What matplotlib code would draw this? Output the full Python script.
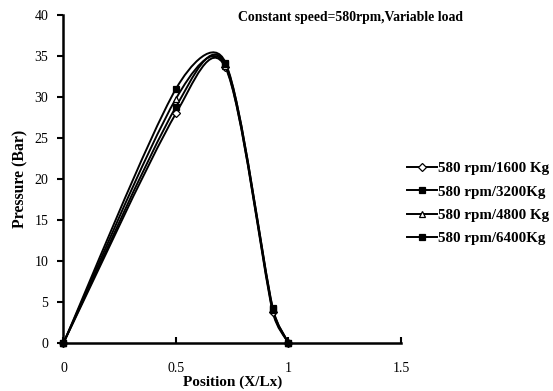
import numpy as np
import matplotlib
matplotlib.use("Agg")
import matplotlib.pyplot as plt
from matplotlib.path import Path
from matplotlib.patches import PathPatch
from matplotlib.lines import Line2D

plt.rcParams['font.family'] = ['Liberation Serif', 'DejaVu Serif']

# data
position = [0.0, 0.5, 0.72, 0.93, 1.0]
p_1600 = [0.0, 28.0, 33.6, 3.8, 0.0]
p_3200 = [0.0, 31.0, 34.2, 4.3, 0.0]
p_4800 = [0.0, 29.8, 33.8, 4.0, 0.0]
p_6400 = [0.0, 28.8, 34.0, 4.2, 0.0]
labels = ['580 rpm/1600 Kg', '580 rpm/3200Kg', '580 rpm/4800 Kg', '580 rpm/6400Kg']
markers = ['D', 's', '^', 's']
fills = ['white', 'black', 'white', 'black']
msizes = [4, 5, 5, 4.5]


# excel-like smoothed line: catmull-rom handles (1/6) in screen space,
# each handle capped to half of the segment it belongs to
def smooth_path(ax, x, y, cap=0.5):
    pts = ax.transData.transform(np.column_stack([x, y]))
    n = len(pts)
    ext = np.vstack([pts[0], pts, pts[-1]])
    verts = [pts[0]]
    codes = [Path.MOVETO]
    for i in range(n - 1):
        seg = np.hypot(*(pts[i + 1] - pts[i]))
        h1 = (ext[i + 2] - ext[i]) / 6.0
        h2 = (ext[i + 3] - ext[i + 1]) / 6.0
        for h in (h1, h2):
            ln = np.hypot(*h)
            if ln > cap * seg:
                h *= cap * seg / ln
        verts += [pts[i] + h1, pts[i + 1] - h2, pts[i + 1]]
        codes += [Path.CURVE4] * 3
    verts = ax.transData.inverted().transform(np.array(verts))
    return Path(verts, codes)


fig = plt.figure(figsize=(5.53, 3.91), dpi=100)
ax = fig.add_axes([0.1148, 0.1228, 0.6102, 0.8388])
ax.set_xlim(0, 1.5)
ax.set_ylim(0, 40)

series = [p_1600, p_3200, p_4800, p_6400]
handles = []
for vals, mk, fc, ms, lab in zip(series, markers, fills, msizes, labels):
    ax.add_patch(PathPatch(smooth_path(ax, position, vals), fill=False,
                           edgecolor='black', lw=1.4, zorder=2))
    ax.plot(position, vals, ls='none', marker=mk, ms=ms, mfc=fc,
            mec='black', mew=0.9, zorder=3, clip_on=False)
    handles.append(Line2D([], [], color='black', lw=1.4, marker=mk, ms=ms,
                          mfc=fc, mec='black', mew=0.9))

ax.set_xticks([0, 0.5, 1, 1.5])
ax.set_xticklabels(['0', '0.5', '1', '1.5'])
ax.set_yticks(range(0, 45, 5))
for s in ['top', 'right']:
    ax.spines[s].set_visible(False)
for s in ['left', 'bottom']:
    ax.spines[s].set_linewidth(1.8)
ax.tick_params(axis='y', direction='out', length=4, width=1.5, labelsize=10, pad=7)
ax.tick_params(axis='x', direction='in', length=4, width=1.5, labelsize=10, pad=14)

ax.set_xlabel('Position (X/Lx)', fontsize=11, fontweight='bold', labelpad=0)
ax.set_ylabel('Pressure (Bar)', fontsize=11.3, fontweight='bold', labelpad=4)

fig.text(0.633, 0.955, 'Constant speed=580rpm,Variable load', fontsize=9.9,
         fontweight='bold', ha='center', va='center')

fig.legend(handles, labels, loc='upper left', bbox_to_anchor=(0.726, 0.602),
           frameon=False, prop={'weight': 'bold', 'size': 10.8},
           handlelength=2.0, handletextpad=0.05, labelspacing=0.66,
           borderaxespad=0)

fig.savefig('out.png', dpi=100)
